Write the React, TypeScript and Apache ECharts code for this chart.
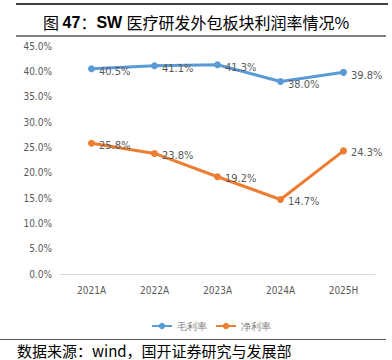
import React, { useEffect, useRef } from "react";
import * as echarts from "echarts";

const categories = ["2021A", "2022A", "2023A", "2024A", "2025H"];
const grossMargin = [40.5, 41.1, 41.3, 38.0, 39.8];
const netMargin = [25.8, 23.8, 19.2, 14.7, 24.3];
const seriesNames = ["毛利率", "净利率"];
const titleParts = ["图 ", "47", "：", "SW ", "医疗研发外包板块利润率情况%"];
const sourceText = "数据来源：wind，国开证券研究与发展部";

const NARROW = "'Liberation Sans Narrow', 'DejaVu Sans Condensed', Arial, sans-serif";

export default function App() {
  const ref = useRef<HTMLDivElement>(null);
  useEffect(() => {
    document.body.style.margin = "0";
    const chart = echarts.init(ref.current!, null, { renderer: "svg" });
    const labelStyle = {
      show: true,
      position: "right" as const,
      distance: 4,
      color: "#595959",
      fontSize: 11,
      fontFamily: NARROW,
      formatter: (p: any) => p.value.toFixed(1) + "%",
    };
    chart.setOption({
      animation: false,
      backgroundColor: "#fff",
      grid: { left: 60, right: 17, top: 46, bottom: 86 },
      legend: {
        top: 316,
        left: 146,
        itemWidth: 20,
        itemHeight: 8,
        itemGap: 8,
        textStyle: { color: "#7f7f7f", fontSize: 9.5, fontFamily: NARROW },
        data: seriesNames,
      },
      xAxis: {
        type: "category",
        data: categories,
        axisLine: { lineStyle: { color: "#d9d9d9", width: 1 } },
        axisTick: { show: false },
        axisLabel: { color: "#595959", fontSize: 10, fontFamily: NARROW, margin: 11 },
      },
      yAxis: {
        type: "value",
        min: 0,
        max: 45,
        interval: 5,
        axisLine: { show: false },
        axisTick: { show: false },
        splitLine: { show: false },
        axisLabel: {
          color: "#595959",
          fontSize: 10,
          fontFamily: NARROW,
          margin: 8,
          formatter: (v: number) => v.toFixed(1) + "%",
        },
      },
      series: [
        {
          name: seriesNames[0],
          type: "line",
          data: grossMargin,
          symbol: "circle",
          symbolSize: 7,
          color: "#5B9BD5",
          lineStyle: { width: 3 },
          label: { ...labelStyle, offset: [0, 3] },
        },
        {
          name: seriesNames[1],
          type: "line",
          data: netMargin,
          symbol: "circle",
          symbolSize: 7,
          color: "#ED7D31",
          lineStyle: { width: 3 },
          label: { ...labelStyle, offset: [0, 2] },
        },
      ],
      graphic: [
        { type: "line", shape: { x1: 16, y1: 4, x2: 388, y2: 4 }, style: { stroke: "#000", lineWidth: 1.5 } },
        {
          type: "text",
          x: 43,
          y: 22,
          style: {
            text: `{n|${titleParts[0]}}{b|${titleParts[1]}}{n|${titleParts[2]}}{b|${titleParts[3]}}{n|${titleParts[4]}}`,
            verticalAlign: "middle",
            rich: {
              n: { fill: "#000", fontSize: 16, fontWeight: "normal", fontFamily: "'Noto Sans CJK SC', sans-serif" },
              b: { fill: "#000", fontSize: 16, fontWeight: "bold", fontFamily: "'Liberation Sans', Arial, sans-serif" },
            },
          },
        },
        { type: "line", shape: { x1: 16, y1: 36, x2: 386, y2: 36 }, style: { stroke: "#808080", lineWidth: 2 } },
        { type: "line", shape: { x1: 0, y1: 339.5, x2: 386, y2: 339.5 }, style: { stroke: "#555", lineWidth: 1 } },
        {
          type: "text",
          x: 17,
          y: 350,
          style: {
            text: sourceText,
            fill: "#000",
            font: "15px 'Noto Sans CJK SC', sans-serif",
            verticalAlign: "middle",
          },
        },
      ],
    });
    return () => chart.dispose();
  }, []);
  return <div ref={ref} style={{ width: 392, height: 360 }} />;
}
